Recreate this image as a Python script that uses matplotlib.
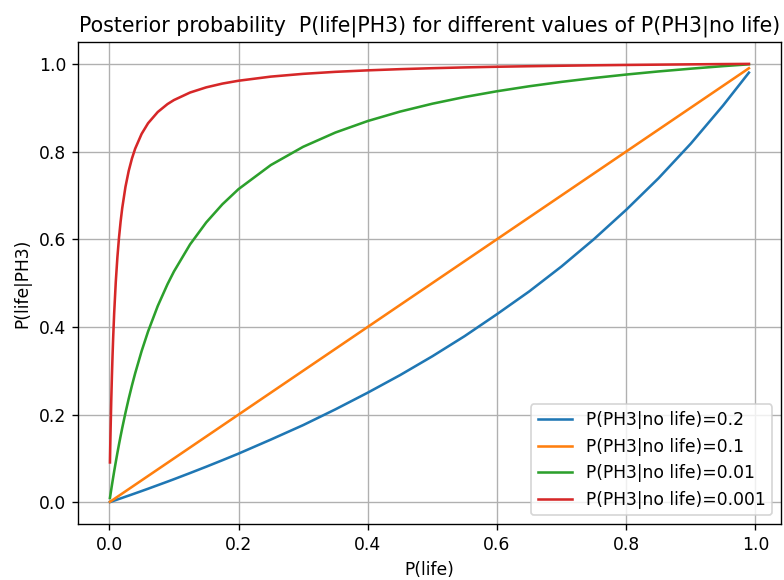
import matplotlib
matplotlib.use("Agg")
import matplotlib.pyplot as plt

p_life = [0.001, 0.0015, 0.002, 0.003, 0.004, 0.005, 0.006, 0.0075, 0.01, 0.0125, 0.015,
          0.0175, 0.02, 0.025, 0.03, 0.035, 0.04, 0.05, 0.06, 0.075, 0.09, 0.1, 0.125,
          0.15, 0.175, 0.2, 0.25, 0.3, 0.35, 0.4, 0.45, 0.5, 0.55, 0.6, 0.65, 0.7,
          0.75, 0.8, 0.85, 0.9, 0.95, 0.99]

post_02 = [0.0005, 0.00075, 0.001, 0.0015, 0.002, 0.0025, 0.003, 0.0038, 0.005, 0.0063, 0.0076,
           0.0088, 0.0101, 0.0127, 0.0152, 0.0178, 0.0204, 0.0256, 0.0309, 0.039, 0.0471, 0.0526, 0.0667,
           0.0811, 0.0959, 0.111, 0.143, 0.176, 0.212, 0.25, 0.290, 0.333, 0.379, 0.429, 0.481, 0.538,
           0.600, 0.667, 0.739, 0.818, 0.905, 0.980]
post_01 = [0.001, 0.0015, 0.002, 0.003, 0.004, 0.005, 0.006, 0.0075, 0.01, 0.0125, 0.015,
           0.0175, 0.02, 0.025, 0.03, 0.035, 0.04, 0.05, 0.06, 0.075, 0.09, 0.1, 0.125,
           0.15, 0.175, 0.2, 0.25, 0.3, 0.35, 0.4, 0.45, 0.5, 0.55, 0.6, 0.65, 0.7,
           0.75, 0.8, 0.85, 0.9, 0.95, 0.99]
post_001 = [0.0099, 0.0148, 0.0196, 0.0292, 0.0386, 0.0478, 0.0569, 0.0703, 0.0917, 0.1124, 0.1322,
            0.1512, 0.1695, 0.2041, 0.2362, 0.2662, 0.2941, 0.3448, 0.3896, 0.4478, 0.4972, 0.5263, 0.5882,
            0.6383, 0.6796, 0.7143, 0.7692, 0.8108, 0.8434, 0.8696, 0.8911, 0.9091, 0.9244, 0.9375, 0.9489, 0.9589,
            0.9677, 0.9756, 0.9827, 0.9890, 0.9948, 0.9990]
post_0001 = [0.0909, 0.1306, 0.1669, 0.2313, 0.2865, 0.3344, 0.3764, 0.4304, 0.5025, 0.5587, 0.6036,
             0.6404, 0.6711, 0.7194, 0.7557, 0.7839, 0.8065, 0.8403, 0.8646, 0.8902, 0.9082, 0.9174, 0.9346,
             0.9464, 0.9550, 0.9615, 0.9709, 0.9772, 0.9818, 0.9852, 0.9879, 0.9901, 0.9919, 0.9934, 0.9946, 0.9957,
             0.9967, 0.9975, 0.9982, 0.9989, 0.9995, 0.9999]

labels = ["P(PH3|no life)=0.2", "P(PH3|no life)=0.1",
          "P(PH3|no life)=0.01", "P(PH3|no life)=0.001"]
series = [post_02, post_01, post_001, post_0001]

DPI = 123
fig, ax = plt.subplots(figsize=(784 / DPI, 580 / DPI), dpi=DPI)
for ys, lab in zip(series, labels):
    ax.plot(p_life, ys, label=lab)
ax.set_title("Posterior probability  P(life|PH3) for different values of P(PH3|no life)")
ax.set_xlabel("P(life)")
ax.set_ylabel("P(life|PH3)")
ax.grid(True)
ax.legend(loc="lower right")
fig.subplots_adjust(left=0.0995, right=0.996, top=0.9276, bottom=0.0966)
fig.savefig("out.png", dpi=DPI)
